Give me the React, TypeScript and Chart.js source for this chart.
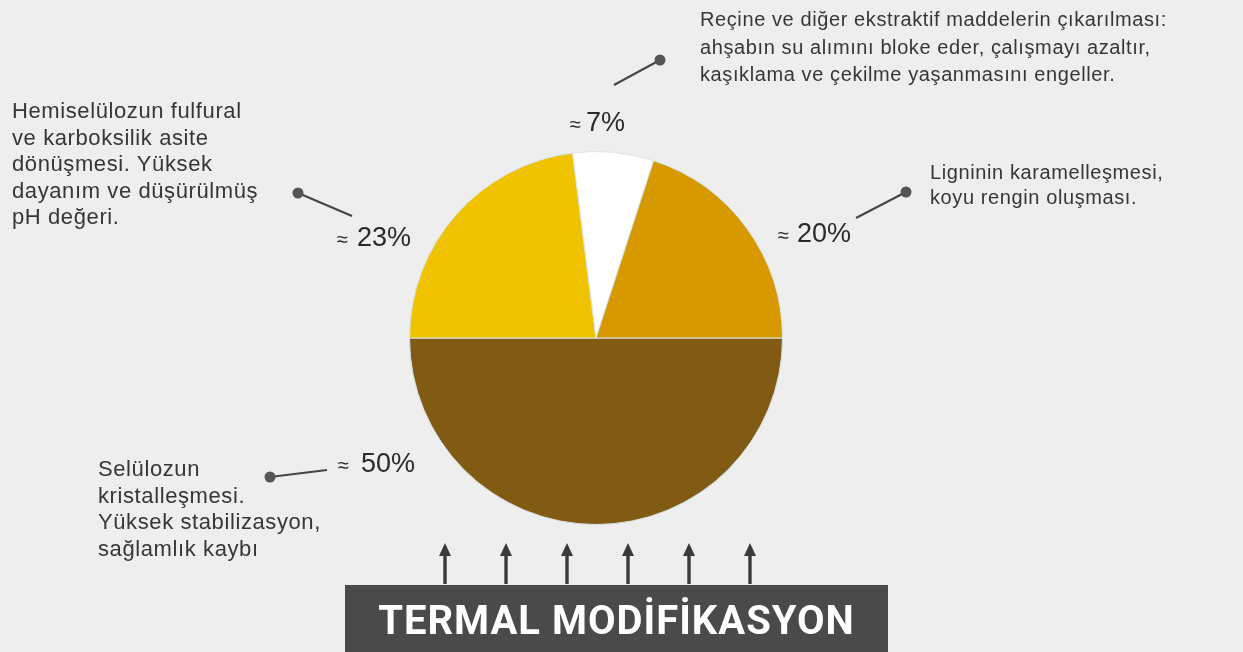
import React, { useEffect, useRef } from "react";
import { Chart, registerables } from "chart.js";

Chart.register(...registerables);

const categories = [
  "Selülozun kristalleşmesi",
  "Hemiselülozun dönüşmesi",
  "Reçine ve ekstraktif maddeler",
  "Ligninin karamelleşmesi",
];
const shares = [50, 23, 7, 20];
const sliceColors = ["#815B14", "#F0C300", "#FFFFFF", "#D69900"];
const percentTexts = ["50%", "23%", "7%", "20%"];

const W = 1243;
const H = 652;
const BG = "#EEEEEE";

// leader lines: [x1, y1, x2, y2] with dot at (x1, y1)
const leaders = [
  [270, 477, 327, 470],
  [298, 193, 352, 216],
  [660, 60, 614, 85],
  [906, 192, 856, 218],
];
const arrowXs = [445, 506, 567, 628, 689, 750];

const decoPlugin = {
  id: "deco",
  afterDraw(chart: any) {
    const ctx = chart.ctx;
    ctx.save();
    ctx.strokeStyle = "#444";
    ctx.fillStyle = "#555";
    ctx.lineWidth = 2;
    for (const [x1, y1, x2, y2] of leaders) {
      ctx.beginPath();
      ctx.moveTo(x1, y1);
      ctx.lineTo(x2, y2);
      ctx.stroke();
      ctx.beginPath();
      ctx.arc(x1, y1, 5.5, 0, Math.PI * 2);
      ctx.fill();
    }
    ctx.fillStyle = "#3a3a3a";
    for (const x of arrowXs) {
      ctx.fillRect(x - 1.7, 553, 3.4, 31);
      ctx.beginPath();
      ctx.moveTo(x, 543);
      ctx.lineTo(x - 6, 556);
      ctx.lineTo(x + 6, 556);
      ctx.closePath();
      ctx.fill();
    }
    ctx.fillStyle = "#4A4A4A";
    ctx.fillRect(345, 585, 543, 67);
    ctx.restore();
  },
};

const txt: React.CSSProperties = {
  position: "absolute",
  fontFamily: "'Liberation Sans', Arial, sans-serif",
  color: "#363636",
  whiteSpace: "nowrap",
};

const pctStyle: React.CSSProperties = {
  ...txt,
  fontSize: 27,
  lineHeight: "27px",
  color: "#2a2a2a",
};

function Pct({ left, top, gap, text }: { left: number; top: number; gap: number; text: string }) {
  return (
    <div style={{ ...pctStyle, left, top }}>
      <span style={{ fontSize: 20 }}>≈</span>
      <span style={{ marginLeft: gap }}>{text}</span>
    </div>
  );
}

export default function App() {
  const ref = useRef<HTMLCanvasElement>(null);
  useEffect(() => {
    document.body.style.margin = "0";
    const chart = new Chart(ref.current!, {
      type: "pie",
      data: {
        labels: categories,
        datasets: [
          {
            data: shares,
            backgroundColor: sliceColors,
            borderColor: "#D8E4EA",
            borderWidth: 1,
          },
        ],
      },
      options: {
        responsive: false,
        animation: false,
        rotation: 90,
        layout: { padding: { left: 409, right: W - 783, top: 151, bottom: H - 525 } },
        plugins: { legend: { display: false }, tooltip: { enabled: false } },
      },
      plugins: [decoPlugin],
    });
    return () => chart.destroy();
  }, []);

  return (
    <div style={{ position: "fixed", left: 0, top: 0, width: W, height: H, background: BG, overflow: "hidden" }}>
      <canvas ref={ref} width={W} height={H} style={{ position: "absolute", left: 0, top: 0 }} />
      <div style={{ ...txt, left: 12, top: 98, fontSize: 22, lineHeight: "26.5px", letterSpacing: "0.6px" }}>
        Hemiselülozun fulfural<br />ve karboksilik asite<br />dönüşmesi. Yüksek<br />dayanım ve düşürülmüş<br />pH değeri.
      </div>
      <div style={{ ...txt, left: 700, top: 6, fontSize: 20, lineHeight: "27.5px", letterSpacing: "0.6px" }}>
        Reçine ve diğer ekstraktif maddelerin çıkarılması:<br />ahşabın su alımını bloke eder, çalışmayı azaltır,<br />kaşıklama ve çekilme yaşanmasını engeller.
      </div>
      <div style={{ ...txt, left: 930, top: 160, fontSize: 20, lineHeight: "25px", letterSpacing: "0.6px" }}>
        Ligninin karamelleşmesi,<br />koyu rengin oluşması.
      </div>
      <div style={{ ...txt, left: 98, top: 456, fontSize: 22, lineHeight: "26.6px", letterSpacing: "0.6px" }}>
        Selülozun<br />kristalleşmesi.<br />Yüksek stabilizasyon,<br />sağlamlık kaybı
      </div>
      <Pct left={338} top={450} gap={12} text={percentTexts[0]} />
      <Pct left={337} top={224} gap={9} text={percentTexts[1]} />
      <Pct left={570} top={109} gap={5} text={percentTexts[2]} />
      <Pct left={778} top={220} gap={8} text={percentTexts[3]} />
      <div
        style={{
          ...txt,
          left: 345,
          width: 543,
          top: 598,
          textAlign: "center",
          fontFamily: "Roboto, 'DejaVu Sans', sans-serif",
          fontWeight: "bold",
          fontSize: 40,
          lineHeight: "46px",
          color: "#FFFFFF",
          letterSpacing: "1px",
        }}
      >
        TERMAL MODİFİKASYON
      </div>
    </div>
  );
}
